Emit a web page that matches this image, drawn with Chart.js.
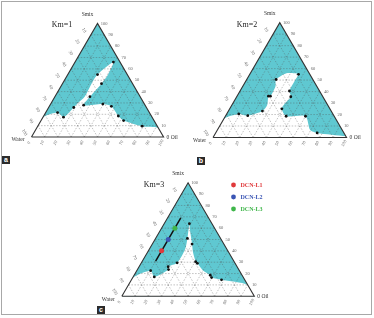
<!DOCTYPE html>
<html>
<head>
<meta charset="utf-8">
<script src="https://cdn.jsdelivr.net/npm/chart.js@4.4.1/dist/chart.umd.min.js"></script>
<style>
html, body { margin: 0; padding: 0; background: #fff; }
#fig { position: relative; width: 374px; height: 318px; overflow: hidden; }
.frame { position: absolute; left: 1px; top: 1px; width: 369px; height: 312px; border: 1px solid #a8a8a8; }
canvas { position: absolute; }
.tag { position: absolute; width: 8px; height: 8px; background: #2b2b2b; color: #fff;
       font: bold 7px "Liberation Sans", Arial; text-align: center; line-height: 7px; }
</style>
</head>
<body>
<div id="fig">
  <div class="frame"></div>
  <canvas id="chartA" width="187" height="160" style="left:0;top:0"></canvas>
  <canvas id="chartB" width="187" height="160" style="left:187px;top:0"></canvas>
  <canvas id="chartC" width="200" height="158" style="left:90px;top:160px"></canvas>
  <div class="tag" style="left:2px;top:156px">a</div>
  <div class="tag" style="left:197px;top:157px">b</div>
  <div class="tag" style="left:97px;top:306px">c</div>
</div>
<script>
// compositions are [water, oil, smix] in %
const tickValues = [0, 10, 20, 30, 40, 50, 60, 70, 80, 90, 100];
const gridSteps = [10, 20, 30, 40, 50, 60, 70, 80, 90];

// Km = 1
const km1Boundary = [[100,0,0],[83,0,17],[69.5,9,21.5],[67,15.5,17.5],[55,19,26],[50.5,20,29.5],[42,22.5,35.5],
  [31,22,47],[22.5,22.5,55],[5,29,66],[14.5,30.5,55],[23.5,29.5,47],[38,26.5,35.5],[46.5,25.5,28],
  [31.5,39.5,29],[26,47,27],[25,56.5,18.5],[23,62.5,14.5],[11.5,79,9.5],[0,92,8],[0,100,0]];
const km1Points = [[69.5,9,21.5],[67,15.5,17.5],[55,19,26],[22.5,22.5,55],[5,29,66],[23.5,29.5,47],
  [38,26.5,35.5],[46.5,25.5,28],[31.5,39.5,29],[26,47,27],[25,56.5,18.5],[23,62.5,14.5],[11.5,79,9.5]];

// Km = 2
const km2Boundary = [[100,0,0],[84,0,16],[70.5,9,20.5],[64.5,16.5,19],[51.5,25.5,23],[45.5,26.5,28],[40.5,23.5,36],
  [39,25,36],[31,24.5,44.5],[27.5,22,50.5],[17,27,56],[11,33,56],[8.5,36.5,55],[14.5,36.5,49],[22.5,37,40.5],
  [24,40.5,35.5],[31.5,39,29.5],[36,39,25],[36,45.5,18.5],[21.5,60,18.5],[24,69.5,6.5],[20,76,4],[0,99,1],[0,100,0]];
const km2Points = [[70.5,9,20.5],[64.5,16.5,19],[51.5,25.5,23],[40.5,23.5,36],[39,25,36],[27.5,22,50.5],
  [8.5,36.5,55],[22.5,37,40.5],[24,40.5,35.5],[36,39,25],[36,45.5,18.5],[21.5,60,18.5],[20,76,4]];

// Km = 3
const km3Boundary = [[100,0,0],[84,0,16],[67,10.5,22.5],[67,16,17],[53,23.5,23.5],[52,22,26],[43.5,27,29.5],
  [31.5,27,41.5],[25,24,51],[17,19,64],[19.5,22.5,58],[24,30,46],[27,34.5,38.5],[29,40.5,30.5],[28.5,42.5,29],
  [27.5,49.5,23],[24,57.5,18.5],[24,59.5,16.5],[17.5,68,14.5],[0,90,10],[0,100,0]];
const km3Points = [[67,10.5,22.5],[67,16,17],[53,23.5,23.5],[52,22,26],[43.5,27,29.5],[25,24,51],[17,19,64],
  [24,30,46],[29,40.5,30.5],[28.5,42.5,29],[24,57.5,18.5],[24,59.5,16.5],[17.5,68,14.5]];

// DCN formulations on the dilution line
const dcnNames = ['DCN-L1', 'DCN-L2', 'DCN-L3'];
const dcnColors = ['#e0393b', '#3a55b4', '#3fb64a'];
const dcnPoints = [[50,10,40],[40,10,50],[30,10,60]];
const dcnLine = [[59,10,31],[21,10,69]];

const SQ3 = Math.sqrt(3) / 2;
const toXY = p => ({ x: p[1] + p[2] / 2, y: p[2] * SQ3 });
const CYAN = '#5fc8d1';

function gridDatasets() {
  const out = [];
  gridSteps.forEach(v => {
    [[[100 - v, 0, v], [0, 100 - v, v]],
     [[100 - v, v, 0], [0, v, 100 - v]],
     [[v, 100 - v, 0], [v, 0, 100 - v]]].forEach(seg => {
      out.push({ data: seg.map(toXY), showLine: true, borderColor: 'rgba(80,80,80,0.6)', borderWidth: 0.6,
        borderDash: [1.5, 1.5], pointRadius: 0, fill: false, order: 8 });
    });
  });
  return out;
}

const ternText = {
  id: 'ternText',
  afterDatasetsDraw(chart, args, o) {
    const { ctx, scales: { x, y } } = chart;
    const pix = p => { const q = toXY(p); return [x.getPixelForValue(q.x), y.getPixelForValue(q.y)]; };
    const rot = (t, a, b, ang) => { ctx.save(); ctx.translate(a, b); ctx.rotate(ang); ctx.fillText(t, 0, 0); ctx.restore(); };
    ctx.save();
    ctx.fillStyle = '#666';
    ctx.font = '4.5px "Liberation Serif"';
    ctx.textAlign = 'center';
    ctx.textBaseline = 'middle';
    tickValues.forEach(v => {
      let [a, b] = pix([100 - v, v, 0]);
      rot(String(v), a - 2.5, b + 6, -Math.PI / 3);
      [a, b] = pix([0, 100 - v, v]);
      if (v > 0) rot(String(v), a + 6.5, b, 0);
      [a, b] = pix([v, 0, 100 - v]);
      if (v > 0) rot(String(v), a - 7, b - 4.5, Math.PI / 3);
    });
    ctx.fillStyle = '#333';
    ctx.font = '5.5px "Liberation Serif"';
    let [a, b] = pix([0, 0, 100]);
    ctx.fillText('Smix', a - 10, b - 9);
    [a, b] = pix([100, 0, 0]);
    ctx.textAlign = 'right';
    ctx.fillText('Water', a - 7, b + 3);
    [a, b] = pix([0, 100, 0]);
    ctx.textAlign = 'left';
    ctx.fillText('0 Oil', a + 3, b + 0.5);
    ctx.font = '8px "Liberation Serif"';
    ctx.fillStyle = '#222';
    ctx.textAlign = 'center';
    ctx.fillText(o.title, o.titleX, o.titleY);
    if (o.legend) {
      ctx.font = 'bold 6px "Liberation Serif"';
      ctx.textAlign = 'left';
      dcnNames.forEach((n, i) => {
        const yy = o.legendY + i * 12;
        ctx.fillStyle = dcnColors[i];
        ctx.beginPath(); ctx.arc(o.legendX, yy, 2.4, 0, Math.PI * 2); ctx.fill();
        ctx.fillText(n, o.legendX + 7, yy + 0.5);
      });
    }
    ctx.restore();
  }
};

function ternaryChart(id, box, boundary, points, extra) {
  const el = document.getElementById(id);
  const k = box.side / 100;
  const W = el.width, H = el.height;
  const closed = boundary.concat([boundary[0]]);
  const datasets = [
    { data: [[100,0,0],[0,100,0],[0,0,100],[100,0,0]].map(toXY), showLine: true, fill: 'shape',
      backgroundColor: CYAN, borderWidth: 0, pointRadius: 0, order: 10 },
    { data: closed.map(toXY), showLine: true, fill: 'shape', backgroundColor: '#ffffff',
      borderColor: 'rgba(255,255,255,0)', borderWidth: 0, tension: 0.25, pointRadius: 0, order: 9 },
    ...gridDatasets(),
    { data: [[100,0,0],[0,100,0],[0,0,100],[100,0,0]].map(toXY), showLine: true, fill: false,
      borderColor: '#333', borderWidth: 1.1, pointRadius: 0, order: 7 },
    { data: points.map(toXY), showLine: false, pointRadius: 1.4, pointBackgroundColor: '#111',
      pointBorderWidth: 0, order: 5 }
  ];
  if (extra) {
    datasets.push({ data: dcnLine.map(toXY), showLine: true, borderColor: '#111', borderWidth: 1.5,
      pointRadius: 0, fill: false, order: 6 });
    dcnPoints.forEach((p, i) => datasets.push({ data: [toXY(p)], pointRadius: 2.5,
      pointBackgroundColor: dcnColors[i], pointBorderWidth: 0, order: 4 }));
  }
  return new Chart(el, {
    type: 'scatter',
    data: { datasets },
    options: {
      responsive: false,
      animation: false,
      events: [],
      layout: { padding: 0 },
      scales: {
        x: { type: 'linear', display: false, min: -box.ox / k, max: (W - box.ox) / k },
        y: { type: 'linear', display: false, min: -(H - box.oy) / k, max: box.oy / k }
      },
      plugins: {
        legend: { display: false },
        tooltip: { enabled: false },
        ternText: box.text
      }
    },
    plugins: [ternText]
  });
}

ternaryChart('chartA', { ox: 28.7, oy: 140, side: 138, text: { title: 'Km=1', titleX: 62, titleY: 25 } },
  km1Boundary, km1Points, false);
ternaryChart('chartB', { ox: 23, oy: 140.5, side: 139.5, text: { title: 'Km=2', titleX: 60, titleY: 25 } },
  km2Boundary, km2Points, false);
ternaryChart('chartC', { ox: 29, oy: 139.3, side: 138,
  text: { title: 'Km=3', titleX: 64, titleY: 25, legend: true, legendX: 143.5, legendY: 25 } },
  km3Boundary, km3Points, true);
</script>
</body>
</html>
